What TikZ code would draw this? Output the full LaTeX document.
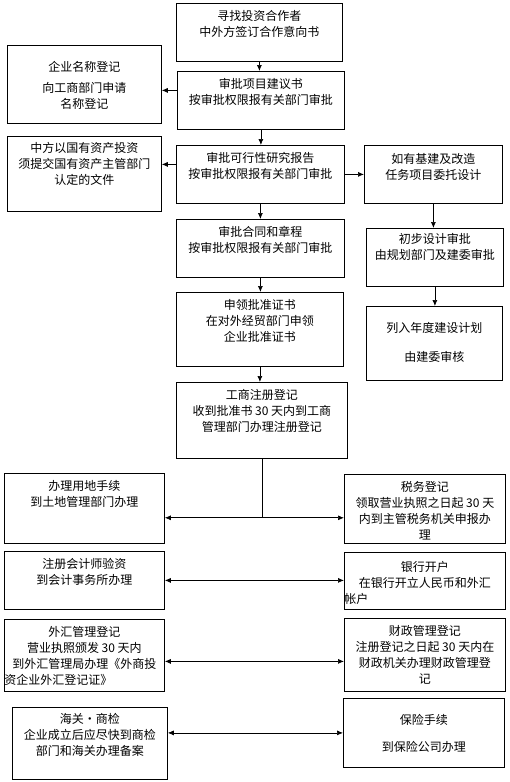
\documentclass[tikz,border=0pt]{standalone}
\usepackage{fontspec}
\newfontfamily\cjk{Noto Sans CJK SC}
\usetikzlibrary{arrows.meta}

\newcommand{\stagetext}[4][6pt]{\parbox[c][#3][t]{#2}{\centering\vspace*{#1}\strut#4}}

\tikzset{
  stage/.style={draw, line width=0.8pt, anchor=north west, inner sep=0pt,
    font=\cjk\fontsize{12}{16}\selectfont},
  flow/.style={-{Latex[length=6pt,width=5pt]}, line width=0.7pt},
  both/.style={{Latex[length=6pt,width=5pt]}-{Latex[length=6pt,width=5pt]}, line width=0.7pt}
}

\begin{document}
\begin{tikzpicture}[x=1pt, y=-1pt]
            \useasboundingbox (0,0) rectangle (510,782);

            % Main column
            \node[stage] (seek) at (176,3) {\stagetext{166pt}{58pt}{寻找投资合作者\\中外方签订合作意向书}};
            \node[stage] (propose) at (177,71) {\stagetext{167pt}{58pt}{审批项目建议书\\按审批权限报有关部门审批}};
            \node[stage] (feas) at (176,145) {\stagetext{168pt}{58pt}{审批可行性研究报告\\按审批权限报有关部门审批}};
            \node[stage] (contract) at (176,219) {\stagetext{168pt}{58pt}{审批合同和章程\\按审批权限报有关部门审批}};
            \node[stage] (permit) at (176,292) {\stagetext{167pt}{74pt}{申领批准证书\\在对外经贸部门申领\\企业批准证书}};
            \node[stage] (reg) at (176,382) {\stagetext{171pt}{76pt}{工商注册登记\\收到批准书 30 天内到工商\\管理部门办理注册登记}};

            % Side boxes, upper part
            \node[stage] (name) at (7,45) {\stagetext[15pt]{154pt}{78pt}{企业名称登记\\[5pt]向工商部门申请\\名称登记}};
            \node[stage] (stateasset) at (7,136) {\stagetext[5pt]{154pt}{75pt}{中方以国有资产投资\\须提交国有资产主管部门\\认定的文件}};
            \node[stage] (task) at (364,145) {\stagetext[7pt]{138pt}{58pt}{如有基建及改造\\任务项目委托设计}};
            \node[stage] (prelim) at (366,228) {\stagetext[4pt]{137pt}{58pt}{初步设计审批\\由规划部门及建委审批}};
            \node[stage] (plan) at (366,306) {\stagetext[15pt]{136pt}{74pt}{列入年度建设计划\\[13pt]由建委审核}};

            % Lower rows
            \node[stage] (land) at (4,473) {\stagetext{160pt}{70pt}{办理用地手续\\到土地管理部门办理}};
            \node[stage] (tax) at (344,474) {\stagetext{161pt}{69pt}{税务登记\\领取营业执照之日起 30 天\\内到主管税务机关申报办\\理}};
            \node[stage] (audit) at (4,551) {\stagetext{160pt}{58pt}{注册会计师验资\\到会计事务所办理}};
            \node[stage] (bank) at (344,552) {\stagetext[8pt]{161pt}{57pt}{银行开户\\在银行开立人民币和外汇\\\rlap{帐户}\phantom{在银行开立人民币和外汇}}};
            \node[stage] (forex) at (4,619) {\stagetext{160pt}{72pt}{外汇管理登记\\营业执照颁发 30 天内\\到外汇管理局办理《外商投\\\rlap{资企业外汇登记证》}\phantom{到外汇管理局办理《外商投}}};
            \node[stage] (fiscal) at (344,618) {\stagetext{161pt}{73pt}{财政管理登记\\注册登记之日起 30 天内在\\财政机关办理财政管理登\\记}};
            \node[stage] (customs) at (12,707) {\stagetext[5pt]{155pt}{72pt}{海关・商检\\企业成立后应尽快到商检\\部门和海关办理备案}};
            \node[stage] (insure) at (343,698) {\stagetext[15pt]{161pt}{69pt}{保险手续\\[11pt]到保险公司办理}};

            % Arrows of the main column
            \draw[flow] (seek.south) -- (seek.south |- propose.north);
            \draw[flow] ([yshift=10pt]propose.west) -- ([yshift=10pt]propose.west -| name.east);
            \draw[flow] (propose.south) -- (propose.south |- feas.north);
            \draw[flow] ([yshift=10pt]feas.west) -- ([yshift=10pt]feas.west -| stateasset.east);
            \draw[flow] (feas.east) -- (feas.east -| task.west);
            \draw[flow] (feas.south) -- (feas.south |- contract.north);
            \draw[flow] (contract.south) -- (contract.south |- permit.north);
            \draw[flow] (permit.south) -- (permit.south |- reg.north);

            % Right column
            \draw[flow] (task.south) -- (task.south |- prelim.north);
            \draw[flow] (prelim.south) -- (prelim.south |- plan.north);

            % Split after registration
            \coordinate (split) at ([yshift=-59pt]reg.south);
            \draw[line width=0.7pt] (reg.south) -- (split);
            \draw[both] (split -| land.east) -- (split -| tax.west);
            \draw[both] (audit.east) -- (audit.east -| bank.west);
            \draw[both] ([yshift=-6pt]forex.east) -- ([yshift=-6pt]forex.east -| fiscal.west);
            \draw[both] (insure.west -| customs.east) -- (insure.west);

\end{tikzpicture}
\end{document}
